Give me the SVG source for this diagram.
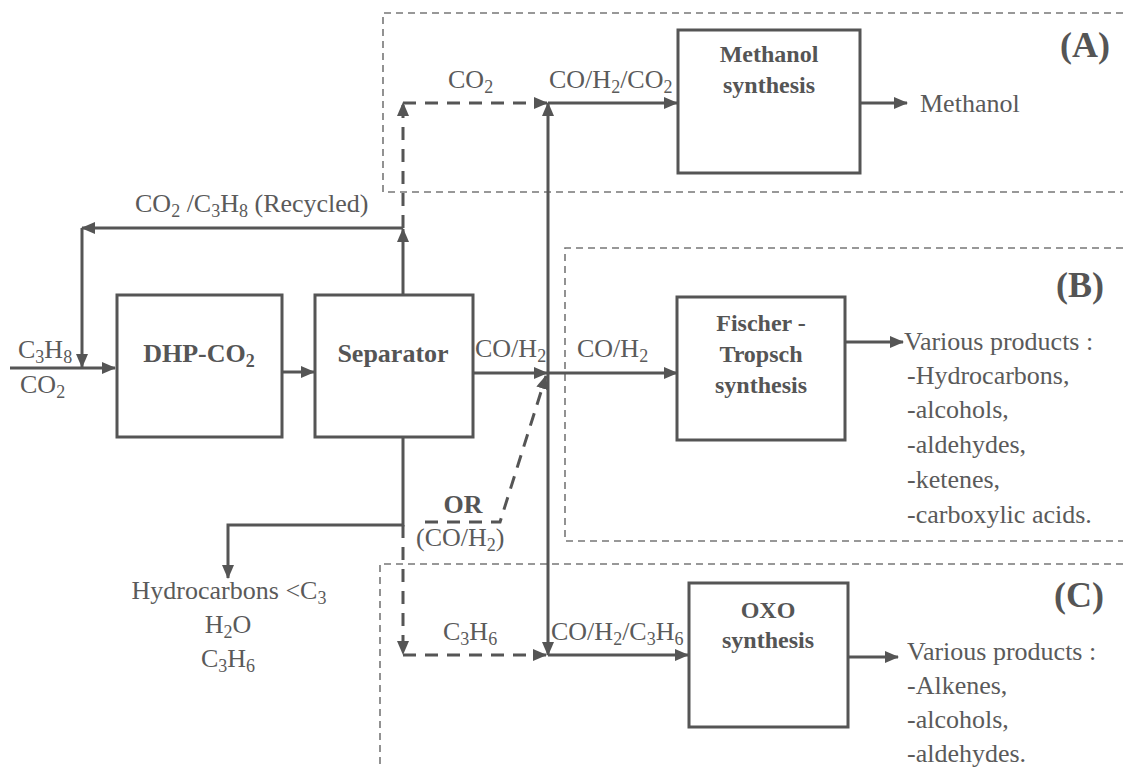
<svg xmlns="http://www.w3.org/2000/svg" width="1123" height="769" viewBox="0 0 1123 769">
<defs>
<marker id="ah" markerWidth="14" markerHeight="12" refX="13" refY="6" orient="auto" markerUnits="userSpaceOnUse">
<path d="M0,0 L14,6 L0,12 z" fill="#555"/>
</marker>
<style>
.box{fill:#fff;stroke:#555;stroke-width:3}
.zone{fill:none;stroke:#777;stroke-width:1.6;stroke-dasharray:7,5}
.ln{fill:none;stroke:#555;stroke-width:3}
.dl{fill:none;stroke:#555;stroke-width:3;stroke-dasharray:13,9}
.t{font-family:"Liberation Serif","Times New Roman",serif;font-size:26px;fill:#5a5a5a}
.b{font-family:"Liberation Serif","Times New Roman",serif;font-size:24px;font-weight:bold;fill:#555}
.bl{font-size:26px}
.big{font-family:"Liberation Serif","Times New Roman",serif;font-size:36px;font-weight:bold;fill:#555}
.s{font-size:18px}
</style>
</defs>
<rect width="1123" height="769" fill="#fff"/>

<g id="zones">
<path class="zone" d="M1123,13 H383 V192 H1123"/>
<path class="zone" d="M1123,248 H565 V541 H1123"/>
<path class="zone" d="M1123,564 H380 V769"/>
<text class="big" x="1085" y="57" text-anchor="middle">(A)</text>
<text class="big" x="1080" y="297" text-anchor="middle">(B)</text>
<text class="big" x="1079" y="607" text-anchor="middle">(C)</text>
</g>

<g id="connectors">
<path class="ln" d="M10,368 H115" marker-end="url(#ah)"/>
<path class="ln" d="M282,372 H314" marker-end="url(#ah)"/>
<path class="ln" d="M403,294 V229" marker-end="url(#ah)"/>
<path class="ln" d="M403,228 H82" marker-end="url(#ah)"/>
<path class="ln" d="M82,228 V367" marker-end="url(#ah)"/>
<path class="dl" d="M403,228 V103" marker-end="url(#ah)"/>
<path class="dl" d="M403,103 H547" marker-end="url(#ah)"/>
<path class="ln" d="M473,373 H547" marker-end="url(#ah)"/>
<path class="ln" d="M548,373 V103" marker-end="url(#ah)"/>
<path class="ln" d="M548,373 V655" marker-end="url(#ah)"/>
<path class="ln" d="M548,103 H677" marker-end="url(#ah)"/>
<path class="ln" d="M548,373 H677" marker-end="url(#ah)"/>
<path class="ln" d="M548,655 H688" marker-end="url(#ah)"/>
<path class="ln" d="M860,103 H907" marker-end="url(#ah)"/>
<path class="ln" d="M845,342 H903" marker-end="url(#ah)"/>
<path class="ln" d="M848,657 H898" marker-end="url(#ah)"/>
<path class="ln" d="M403,438 V525 H228 V578" marker-end="url(#ah)"/>
<path class="dl" d="M403,525 V654" marker-end="url(#ah)"/>
<path class="dl" d="M403,655 H546" marker-end="url(#ah)"/>
<path class="dl" d="M425,522 H500 L546,376" marker-end="url(#ah)"/>
</g>

<g id="labels">
<text class="t" x="18" y="358">C<tspan class="s" dy="5">3</tspan><tspan dy="-5">H</tspan><tspan class="s" dy="5">8</tspan></text>
<text class="t" x="20" y="393">CO<tspan class="s" dy="5">2</tspan></text>
<text class="t" x="135" y="212">CO<tspan class="s" dy="5">2</tspan><tspan dy="-5"> /C</tspan><tspan class="s" dy="5">3</tspan><tspan dy="-5">H</tspan><tspan class="s" dy="5">8</tspan><tspan dy="-5"> (Recycled)</tspan></text>
<text class="t" x="448" y="88">CO<tspan class="s" dy="5">2</tspan></text>
<text class="t" x="549" y="88">CO/H<tspan class="s" dy="5">2</tspan><tspan dy="-5">/CO</tspan><tspan class="s" dy="5">2</tspan></text>
<text class="t" x="475" y="357">CO/H<tspan class="s" dy="5">2</tspan></text>
<text class="t" x="577" y="357">CO/H<tspan class="s" dy="5">2</tspan></text>
<text class="b bl" x="463" y="513" text-anchor="middle">OR</text>
<text class="t" x="416" y="546">(CO/H<tspan class="s" dy="5">2</tspan><tspan dy="-5">)</tspan></text>
<text class="t" x="443" y="640">C<tspan class="s" dy="5">3</tspan><tspan dy="-5">H</tspan><tspan class="s" dy="5">6</tspan></text>
<text class="t" x="551" y="640">CO/H<tspan class="s" dy="5">2</tspan><tspan dy="-5">/C</tspan><tspan class="s" dy="5">3</tspan><tspan dy="-5">H</tspan><tspan class="s" dy="5">6</tspan></text>
<text class="t" x="229" y="599" text-anchor="middle">Hydrocarbons &lt;C<tspan class="s" dy="5">3</tspan></text>
<text class="t" x="228" y="633" text-anchor="middle">H<tspan class="s" dy="5">2</tspan><tspan dy="-5">O</tspan></text>
<text class="t" x="228" y="667" text-anchor="middle">C<tspan class="s" dy="5">3</tspan><tspan dy="-5">H</tspan><tspan class="s" dy="5">6</tspan></text>
<text class="t" x="920" y="112">Methanol</text>
<text class="t" x="904" y="350">Various products :</text>
<text class="t" x="907" y="384">-Hydrocarbons,</text>
<text class="t" x="907" y="418">-alcohols,</text>
<text class="t" x="907" y="453">-aldehydes,</text>
<text class="t" x="907" y="488">-ketenes,</text>
<text class="t" x="907" y="523">-carboxylic acids.</text>
<text class="t" x="907" y="660">Various products :</text>
<text class="t" x="907" y="694">-Alkenes,</text>
<text class="t" x="907" y="728">-alcohols,</text>
<text class="t" x="907" y="762">-aldehydes.</text>
</g>

<g id="dhp">
<rect class="box" x="117" y="295" width="165" height="142"/>
<text class="b bl" x="199" y="362" text-anchor="middle">DHP-CO<tspan class="s" dy="5">2</tspan></text>
</g>
<g id="separator">
<rect class="box" x="315" y="295" width="158" height="142"/>
<text class="b bl" x="393" y="362" text-anchor="middle">Separator</text>
</g>
<g id="methanol">
<rect class="box" x="678" y="30" width="182" height="143"/>
<text class="b" x="769" y="62" text-anchor="middle">Methanol</text>
<text class="b" x="769" y="93" text-anchor="middle">synthesis</text>
</g>
<g id="fischer">
<rect class="box" x="677" y="297" width="168" height="143"/>
<text class="b" x="761" y="331" text-anchor="middle">Fischer -</text>
<text class="b" x="761" y="362" text-anchor="middle">Tropsch</text>
<text class="b" x="761" y="393" text-anchor="middle">synthesis</text>
</g>
<g id="oxo">
<rect class="box" x="689" y="583" width="159" height="144"/>
<text class="b" x="768" y="618" text-anchor="middle">OXO</text>
<text class="b" x="768" y="648" text-anchor="middle">synthesis</text>
</g>
</svg>
